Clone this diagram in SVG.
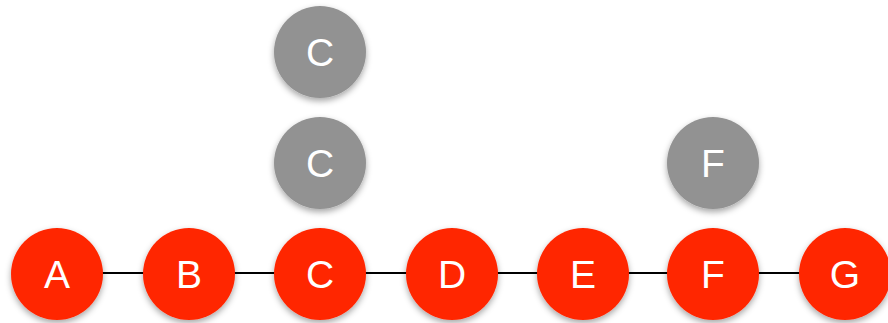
<svg xmlns="http://www.w3.org/2000/svg" width="888" height="323" viewBox="0 0 888 323">
<defs>
<filter id="sh" x="-30%" y="-30%" width="160%" height="170%">
<feDropShadow dx="0" dy="3" stdDeviation="3" flood-color="#000" flood-opacity="0.35"/>
</filter>
<style>
.red{fill:#FF2600;filter:url(#sh)}
.gray{fill:#929292;filter:url(#sh)}
.lbl{font-family:"Liberation Sans",Arial,sans-serif;font-size:39px;fill:#fff;text-anchor:middle}
.edge{stroke:#000;stroke-width:2;fill:none}
</style>
</defs>
<rect width="888" height="323" fill="#fff"/>
<g id="connectors">
<line class="edge" x1="57" y1="273" x2="845" y2="273"/>
</g>
<g id="C_top"><circle class="gray" cx="320" cy="52" r="46"/><text class="lbl" x="320" y="66">C</text></g>
<g id="C_mid"><circle class="gray" cx="320" cy="163" r="46"/><text class="lbl" x="320" y="177">C</text></g>
<g id="F_up"><circle class="gray" cx="713" cy="163" r="46"/><text class="lbl" x="713" y="177">F</text></g>
<g id="A"><circle class="red" cx="57" cy="274" r="46"/><text class="lbl" x="57" y="288">A</text></g>
<g id="B"><circle class="red" cx="189" cy="274" r="46"/><text class="lbl" x="189" y="288">B</text></g>
<g id="C"><circle class="red" cx="320" cy="274" r="46"/><text class="lbl" x="320" y="288">C</text></g>
<g id="D"><circle class="red" cx="452" cy="274" r="46"/><text class="lbl" x="452" y="288">D</text></g>
<g id="E"><circle class="red" cx="583" cy="274" r="46"/><text class="lbl" x="583" y="288">E</text></g>
<g id="F"><circle class="red" cx="713" cy="274" r="46"/><text class="lbl" x="713" y="288">F</text></g>
<g id="G"><circle class="red" cx="845" cy="274" r="46"/><text class="lbl" x="845" y="288">G</text></g>
</svg>
